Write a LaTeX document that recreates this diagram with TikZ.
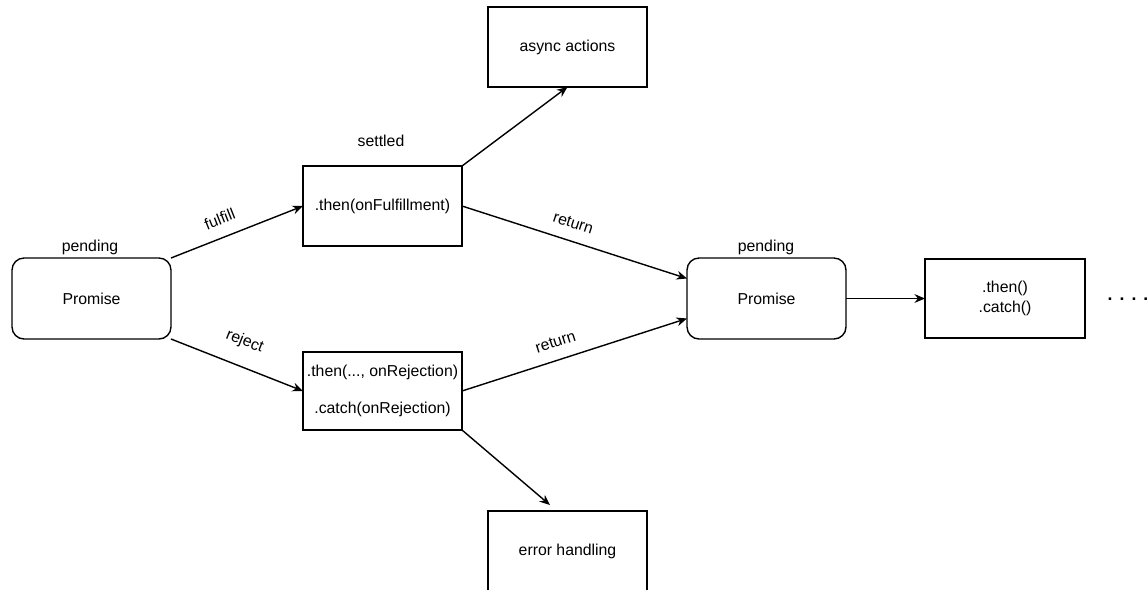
\documentclass[tikz,border=0pt]{standalone}
\usepackage{fontspec}
\setmainfont{Liberation Sans}
\usetikzlibrary{arrows.meta}

\begin{document}
\begin{tikzpicture}[x=0.02cm, y=-0.02cm, line width=0.8pt,
  every node/.style={align=center, font=\fontsize{9}{11}\selectfont},
  box/.style={draw, minimum width=3.18cm, minimum height=1.6cm, inner sep=0pt, outer sep=0pt},
  rbox/.style={box, minimum height=1.62cm, rounded corners=0.24cm},
  arr/.style={-{Stealth[length=6pt,width=5pt]}}]
\useasboundingbox (0,0) rectangle (1148,589);
% states
\node[rbox] (prom) at (91.5, 298.5) {Promise};
\node (pend) at (90, 247) {pending};
\node[rbox] (prom2) at (766.5, 298.5) {Promise};
\node (pend2) at (766, 247) {pending};
% handlers
\node[box] (thenF) at (382.5, 206) {.then(onFulfillment)};
\node (settled) at (381, 141) {settled};
\node[box, minimum height=1.56cm] (rej) at (382.5, 391) {.then(..., onRejection)\\[10.5pt].catch(onRejection)};
\node[box] (async) at (567.5, 47) {async actions};
\node[box] (err) at (567.5, 551) {error handling};
\node[box, minimum width=3.2cm, minimum height=1.58cm] (chain) at (1005, 298.5) {.then()\\.catch()};
\node[anchor=base, font=\fontsize{10}{12}\selectfont\bfseries] (dots) at (1128, 300) {.\hspace{4pt}.\hspace{4pt}.\hspace{4pt}.};
% connectors
\draw[arr] (prom.north east) -- (thenF.west) node[pos=0.42, sloped, above=3.5pt] {fulfill};
\draw[arr] (prom.south east) -- (rej.west) node[pos=0.49, sloped, above=6pt] {reject};
\draw[arr] (thenF.north east) -- (async.south);
\draw[arr] (thenF.east) -- ([yshift=0.4cm]prom2.west) node[pos=0.47, sloped, above=3.5pt] {return};
\draw[arr] (rej.east) -- ([yshift=-0.4cm]prom2.west) node[pos=0.44, sloped, above=3.5pt] {return};
\draw[arr] (rej.south east) -- ([xshift=-0.35cm, yshift=0.12cm]err.north);
\draw[arr] (prom2.east) -- (chain.west);
\end{tikzpicture}
\end{document}
